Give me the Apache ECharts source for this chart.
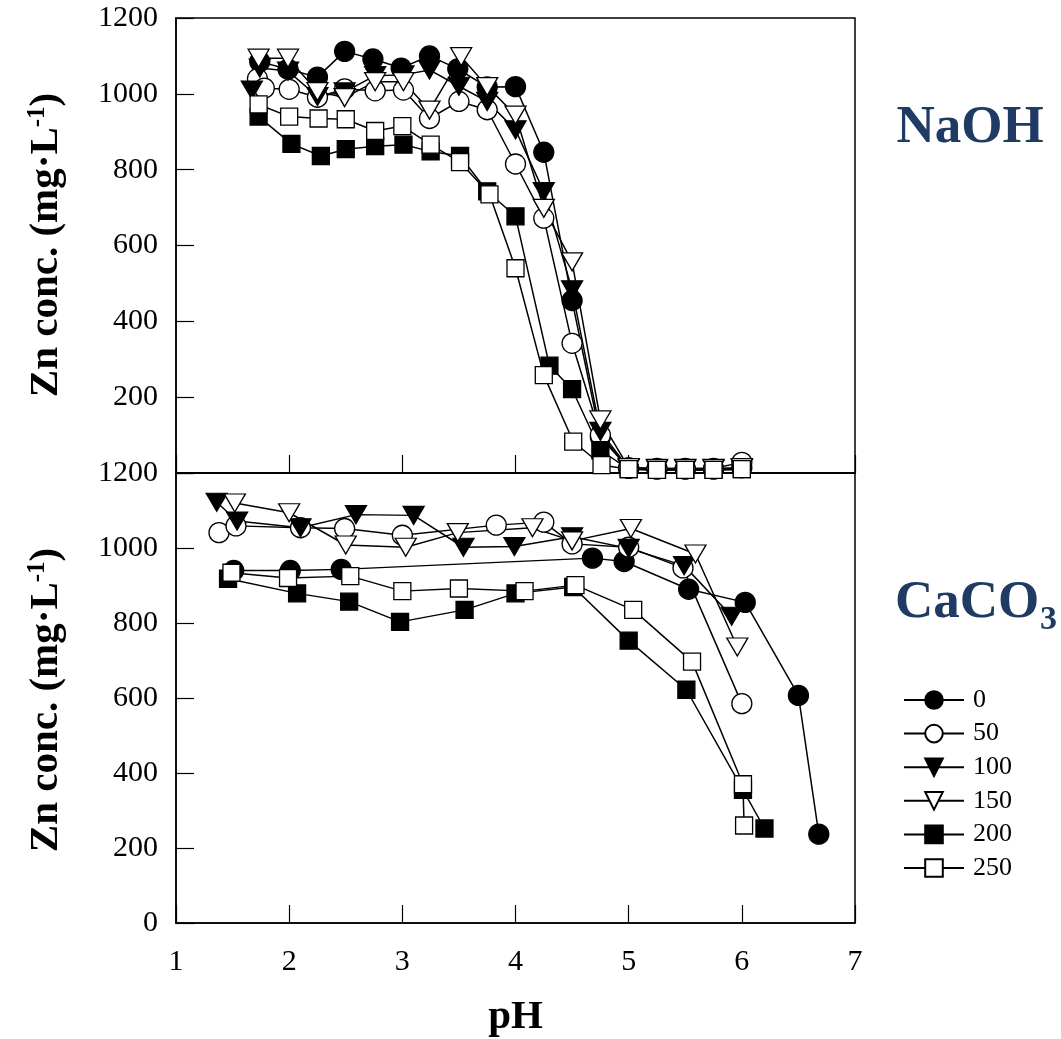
<!DOCTYPE html>
<html>
<head>
<meta charset="utf-8">
<title>Zn concentration vs pH</title>
<script src="https://cdn.jsdelivr.net/npm/echarts@6/dist/echarts.min.js"></script>
<style>
  html, body { margin: 0; padding: 0; background: #fff; }
  #chart { width: 1061px; height: 1039px; }
</style>
</head>
<body>
<div id="chart"></div>
<script>
// Series names (dose levels) shown in the legend
const doseNames = ['0', '50', '100', '150', '200', '250'];

// Axis tick values
const phTicks = [1, 2, 3, 4, 5, 6, 7];
const concTicks = [0, 200, 400, 600, 800, 1000, 1200];

// NaOH neutralisation: [pH, Zn mg/L]
const naoh0 = [[1.74,1085],[1.99,1065],[2.25,1044],[2.49,1112],[2.74,1092],[2.99,1068],[3.24,1100],[3.49,1066],[3.75,1018],[4.0,1019],[4.25,846],[4.5,455],[4.75,95],[5.0,12],[5.25,10],[5.5,10],[5.75,10],[6.0,14]];
const naoh50 = [[1.72,1040],[1.78,1015],[2.0,1012],[2.25,991],[2.49,1013],[2.76,1008],[3.01,1010],[3.24,935],[3.5,980],[3.75,958],[4.0,815],[4.25,672],[4.5,342],[4.75,100],[5.0,14],[5.25,12],[5.5,12],[5.75,12],[6.0,28]];
const naoh100 = [[1.67,1010],[1.74,1068],[1.99,1060],[2.25,993],[2.49,1005],[2.76,1048],[3.01,1050],[3.24,1063],[3.5,1020],[3.75,980],[4.0,905],[4.25,742],[4.5,483],[4.75,110],[5.0,12],[5.25,10],[5.5,10],[5.75,10],[6.0,12]];
const naoh150 = [[1.73,1094],[1.99,1094],[2.25,1006],[2.49,990],[2.76,1032],[3.01,1032],[3.24,957],[3.52,1098],[3.75,1019],[4.0,944],[4.25,698],[4.5,557],[4.75,140],[5.0,14],[5.25,12],[5.5,12],[5.75,12],[6.0,14]];
const naoh200 = [[1.73,940],[2.02,868],[2.28,836],[2.5,854],[2.76,862],[3.01,866],[3.25,848],[3.51,836],[3.75,743],[4.0,677],[4.3,283],[4.5,221],[4.75,60],[5.0,10],[5.25,8],[5.5,8],[5.75,8],[6.0,10]];
const naoh250 = [[1.73,972],[2.0,940],[2.26,935],[2.5,933],[2.76,902],[3.0,915],[3.25,866],[3.51,820],[3.77,735],[4.0,540],[4.25,258],[4.51,83],[4.76,21],[5.0,10],[5.25,8],[5.5,8],[5.75,8],[6.0,10]];

// CaCO3 neutralisation: [pH, Zn mg/L]
const caco0 = [[1.51,940],[2.01,940],[2.46,943],[4.68,973],[4.96,964],[5.53,890],[6.03,855],[6.5,607],[6.68,237]];
const caco50 = [[1.38,1041],[1.53,1059],[2.1,1054],[2.49,1052],[3.0,1034],[3.83,1061],[4.25,1069],[4.5,1011],[5.0,1002],[5.48,947],[6.0,585]];
const caco100 = [[1.36,1122],[1.54,1072],[2.1,1054],[2.59,1089],[3.1,1087],[3.54,1002],[3.99,1004],[4.5,1030],[5.0,999],[5.49,953],[5.91,818]];
const caco150 = [[1.52,1120],[2.0,1094],[2.5,1008],[3.03,1002],[3.49,1041],[4.15,1054],[4.5,1019],[5.02,1052],[5.59,984],[5.96,736]];
const caco200 = [[1.46,918],[2.07,879],[2.53,857],[2.98,803],[3.55,835],[4.0,879],[4.51,896],[5.0,753],[5.51,622],[6.01,355],[6.2,252]];
const caco250 = [[1.49,934],[1.99,920],[2.54,925],[3.0,885],[3.5,892],[4.08,885],[4.53,901],[5.04,835],[5.56,697],[6.01,370],[6.02,260]];

const serif = 'Liberation Serif, Times New Roman, serif';
const labelBlue = '#1f3b63';

// Marker look for each dose level
const markerStyles = {
  '0':   { symbol: 'circle',   size: 20,      rotate: 0,   fill: '#000' },
  '50':  { symbol: 'circle',   size: 20,      rotate: 0,   fill: '#fff' },
  '100': { symbol: 'triangle', size: [21,18], rotate: 180, fill: '#000' },
  '150': { symbol: 'triangle', size: [21,18], rotate: 180, fill: '#fff' },
  '200': { symbol: 'rect',     size: 17,      rotate: 0,   fill: '#000' },
  '250': { symbol: 'rect',     size: 17,      rotate: 0,   fill: '#fff' }
};

function makeSeries(name, data, panel) {
  const m = markerStyles[name];
  return {
    name: name,
    type: 'line',
    xAxisIndex: panel,
    yAxisIndex: panel,
    data: data,
    symbol: m.symbol,
    symbolSize: m.size,
    symbolRotate: m.rotate,
    showAllSymbol: true,
    animation: false,
    lineStyle: { color: '#000', width: 1.5 },
    itemStyle: { color: m.fill, borderColor: '#000', borderWidth: 1.3, opacity: 1 },
    emphasis: { disabled: true }
  };
}

const naohSets = [naoh0, naoh50, naoh100, naoh150, naoh200, naoh250];
const cacoSets = [caco0, caco50, caco100, caco150, caco200, caco250];

const series = [];
doseNames.forEach((n, i) => series.push(makeSeries(n, naohSets[i], 0)));
doseNames.forEach((n, i) => series.push(makeSeries(n, cacoSets[i], 1)));

function xAxis(gridIndex, showLabels) {
  return {
    type: 'value', gridIndex: gridIndex,
    min: phTicks[0], max: phTicks[phTicks.length - 1], interval: 1,
    axisLine: { show: true, lineStyle: { color: '#000', width: 1.5 } },
    axisTick: { show: true, inside: true, length: 18, lineStyle: { color: '#000', width: 1.2 } },
    axisLabel: { show: showLabels, fontFamily: serif, fontSize: 30, color: '#000', margin: 24 },
    splitLine: { show: false },
    name: showLabels ? 'pH' : '',
    nameLocation: 'middle', nameGap: 74,
    nameTextStyle: { fontFamily: serif, fontSize: 41, fontWeight: 'bold', color: '#000' }
  };
}

function yAxis(gridIndex, hideZero) {
  return {
    type: 'value', gridIndex: gridIndex,
    min: concTicks[0], max: concTicks[concTicks.length - 1], interval: 200,
    axisLine: { show: true, lineStyle: { color: '#000', width: 1.5 } },
    axisTick: { show: true, inside: true, length: 18, lineStyle: { color: '#000', width: 1.2 } },
    axisLabel: {
      fontFamily: serif, fontSize: 30, color: '#000', margin: 18,
      formatter: v => (hideZero && v === 0) ? '' : String(v)
    },
    splitLine: { show: false }
  };
}

const yTitle = '{a|Zn conc. (mg·L}{s|-1}{a|)}';
const yTitleRich = {
  a: { fontFamily: serif, fontSize: 41, fontWeight: 'bold', color: '#000' },
  s: { fontFamily: serif, fontSize: 25, fontWeight: 'bold', color: '#000', verticalAlign: 'top' }
};

const option = {
  backgroundColor: '#fff',
  animation: false,
  grid: [
    { left: 176, top: 18, width: 679, height: 455, show: true, borderColor: '#000', borderWidth: 1.5, backgroundColor: 'transparent' },
    { left: 176, top: 473, width: 679, height: 456, show: true, borderColor: '#000', borderWidth: 1.5, backgroundColor: 'transparent' }
  ],
  xAxis: [xAxis(0, false), xAxis(1, true)],
  yAxis: [yAxis(0, true), yAxis(1, false)],
  legend: {
    data: doseNames,
    orient: 'vertical',
    left: 898, top: 682,
    itemWidth: 60, itemHeight: 22, itemGap: 7.6,
    symbolRotate: 'inherit',
    selectedMode: false,
    textStyle: { fontFamily: serif, fontSize: 26, color: '#000', padding: [0, 0, 0, 4] }
  },
  graphic: [
    { type: 'text', x: 46, y: 245, rotation: Math.PI / 2,
      style: { text: yTitle, rich: yTitleRich, align: 'center', verticalAlign: 'middle' } },
    { type: 'text', x: 46, y: 700, rotation: Math.PI / 2,
      style: { text: yTitle, rich: yTitleRich, align: 'center', verticalAlign: 'middle' } },
    { type: 'text', x: 970, y: 128,
      style: { text: 'NaOH', fontFamily: serif, fontSize: 53, fontWeight: 'bold', fill: labelBlue, align: 'center', verticalAlign: 'middle' } },
    { type: 'text', x: 895, y: 603,
      style: { text: 'CaCO', fontFamily: serif, fontSize: 53, fontWeight: 'bold', fill: labelBlue, align: 'left', verticalAlign: 'middle' } },
    { type: 'text', x: 1040, y: 620,
      style: { text: '3', fontFamily: serif, fontSize: 34, fontWeight: 'bold', fill: labelBlue, align: 'left', verticalAlign: 'middle' } }
  ],
  series: series
};

const chart = echarts.init(document.getElementById('chart'), null, { renderer: 'canvas' });
chart.setOption(option);
</script>
</body>
</html>
